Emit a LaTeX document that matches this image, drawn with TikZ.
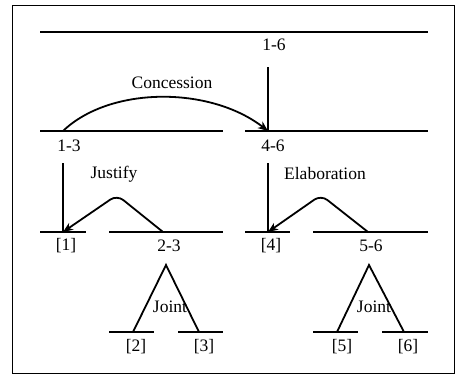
\documentclass[tikz,border=0pt]{standalone}
\usepackage{fontspec}
\setmainfont{Liberation Serif}
\usetikzlibrary{arrows.meta}

\begin{document}
\begin{tikzpicture}[x=1pt, y=-1pt,
  span/.style={line width=2pt},
  link/.style={line width=1.8pt},
  rel/.style={line width=1.8pt, -{Stealth[length=10pt,width=8pt,inset=3pt]}},
  lbl/.style={font=\fontsize{17.5}{19}\selectfont, inner sep=0pt}
]
\useasboundingbox (0,0) rectangle (455,383);
\draw[line width=0.8pt] (12,5) rectangle (454,373);
% level 1
\coordinate (s16a) at (40,32);
\coordinate (s16b) at (428,32);
\draw[span] (s16a) -- (s16b);
\node[lbl] (l16) at (274,45) {1-6};
% level 2
\coordinate (s13a) at (40,131);
\coordinate (s13b) at (223,131);
\coordinate (s46a) at (245,131);
\coordinate (s46b) at (428,131);
\coordinate (h13) at (63,131);
\coordinate (h46) at (268,131);
\coordinate (t46) at (268,67);
\draw[span] (s13a) -- (s13b);
\draw[span] (s46a) -- (s46b);
\node[lbl] (l13) at (69,146) {1-3};
\node[lbl] (l46) at (273,146) {4-6};
\draw[link] (t46) -- (h46);
\draw[rel] (h13) .. controls (110,86) and (210,86) .. (h46);
\node[lbl] (concession) at (172,83) {Concession};
% level 3
\coordinate (s1a) at (40,232);
\coordinate (s1b) at (86,232);
\coordinate (s23a) at (109,232);
\coordinate (s23b) at (223,232);
\coordinate (s4a) at (245,232);
\coordinate (s4b) at (290,232);
\coordinate (s56a) at (313,232);
\coordinate (s56b) at (428,232);
\draw[span] (s1a) -- (s1b);
\draw[span] (s23a) -- (s23b);
\draw[span] (s4a) -- (s4b);
\draw[span] (s56a) -- (s56b);
\node[lbl] (l1) at (66,246) {[1]};
\node[lbl] (l23) at (169,246) {2-3};
\node[lbl] (l4) at (271,246) {[4]};
\node[lbl] (l56) at (371,246) {5-6};
\coordinate (h1) at (63,232);
\coordinate (t1) at (63,163);
\coordinate (h4) at (268,232);
\coordinate (t4) at (268,163);
\coordinate (h23) at (163,232);
\coordinate (h56) at (368,232);
\coordinate (p23) at (117,195);
\coordinate (p56) at (321,195);
\draw[link] (t1) -- (h1);
\draw[link] (t4) -- (h4);
\draw[rel, rounded corners=8pt] (h23) -- (p23) -- (h1);
\draw[rel, rounded corners=8pt] (h56) -- (p56) -- (h4);
\node[lbl] (justify) at (114,174) {Justify};
\node[lbl] (elaboration) at (325,174) {Elaboration};
% level 4
\coordinate (s2a) at (109,332);
\coordinate (s2b) at (154,332);
\coordinate (s3a) at (178,332);
\coordinate (s3b) at (223,332);
\coordinate (s5a) at (313,332);
\coordinate (s5b) at (358,332);
\coordinate (s6a) at (382,332);
\coordinate (s6b) at (428,332);
\draw[span] (s2a) -- (s2b);
\draw[span] (s3a) -- (s3b);
\draw[span] (s5a) -- (s5b);
\draw[span] (s6a) -- (s6b);
\node[lbl] (l2) at (136,347) {[2]};
\node[lbl] (l3) at (204,347) {[3]};
\node[lbl] (l5) at (342,347) {[5]};
\node[lbl] (l6) at (408,347) {[6]};
\node[lbl] (joint23) at (170,307) {Joint};
\node[lbl] (joint56) at (374,307) {Joint};
\coordinate (a23) at (166,265);
\coordinate (a56) at (369,265);
\coordinate (h2) at (133,332);
\coordinate (h3) at (199,332);
\coordinate (h5) at (337,332);
\coordinate (h6) at (404,332);
\draw[link] (h2) -- (a23) -- (h3);
\draw[link] (h5) -- (a56) -- (h6);
\end{tikzpicture}
\end{document}
